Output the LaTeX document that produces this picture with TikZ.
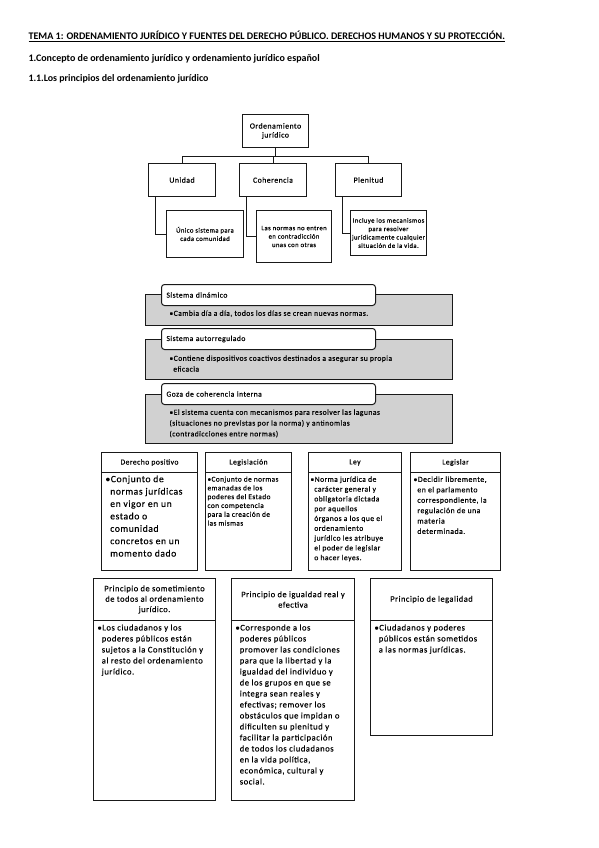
\documentclass[tikz,border=0pt]{standalone}
\usepackage{fontspec}
\setmainfont{Carlito}
\newfontfamily\dg{Carlito}[LetterSpace=6, FakeBold=0.3]
\usetikzlibrary{positioning}
\newcommand{\hg}{\phantom{•}}

\begin{document}
\begin{tikzpicture}[x=1pt, y=-1pt, line width=1pt,
    treebox/.style={draw=black!90, fill=white, anchor=north west, align=center, inner sep=1pt, font=\dg\fontsize{7.8}{9}\selectfont},
    leafbox/.style={treebox, font=\dg\fontsize{6.7}{8.4}\selectfont},
    band/.style={draw=black!90, fill=black!18, anchor=north west, minimum width=307pt},
    bandtitle/.style={draw=black!90, fill=white, rounded corners=3pt, anchor=north west, minimum height=21pt, text width=204pt, inner xsep=5pt, align=left, font=\dg\fontsize{7.6}{9}\selectfont},
    bandtext/.style={anchor=north west, align=left, inner sep=0pt, font=\dg\fontsize{7.6}{10.8}\selectfont},
    cardhead/.style={draw=black!90, anchor=north west, align=center, inner sep=1pt, font=\dg\fontsize{7.6}{9}\selectfont},
    cardbody/.style={draw=black!90, anchor=north west},
    cardtext/.style={anchor=north west, align=left, inner sep=0pt},
    link/.style={draw=black!90, line width=1pt}
]
    \useasboundingbox (0,0) rectangle (599,848);
    \fill[white] (0,0) rectangle (599,848);

    % Headings
    \node[anchor=base west, inner sep=0pt, font=\bfseries\fontsize{10.1}{11}\selectfont] (tema) at (28,40)
        {\underline{TEMA 1: ORDENAMIENTO JURÍDICO Y FUENTES DEL DERECHO PÚBLICO. DERECHOS HUMANOS Y SU PROTECCIÓN.}};
    \node[anchor=base west, inner sep=0pt, font=\bfseries\fontsize{10}{11}\selectfont] (concepto) at (28,62)
        {1.Concepto de ordenamiento jurídico y ordenamiento jurídico español};
    \node[anchor=base west, inner sep=0pt, font=\bfseries\fontsize{9.9}{11}\selectfont] (principios) at (28,82)
        {1.1.Los principios del ordenamiento jurídico};

    % Tree
    \node[treebox, minimum width=66pt, minimum height=33pt] (root) at (242,114) {Ordenamiento\\jurídico};
    \node[treebox, minimum width=67pt, minimum height=33pt] (unidad) at (148,163) {Unidad};
    \node[treebox, minimum width=67pt, minimum height=33pt] (coherencia) at (239,163) {Coherencia};
    \node[treebox, minimum width=66pt, minimum height=33pt] (plenitud) at (335,163) {Plenitud};
    \node[leafbox, minimum width=77pt, minimum height=47pt] (unico) at (166,210) {Único sistema para\\cada comunidad};
    \node[leafbox, minimum width=75pt, minimum height=52pt] (contradiccion) at (256,210) {Las normas no entren\\en contradicción\\unas con otras};
    \node[leafbox, minimum width=76pt, minimum height=45pt] (incluye) at (350,210) {Incluye los mecanismos\\para resolver\\jurídicamente cualquier\\situación de la vida.};

    \draw[link] (root.south) -- ++(0,8) -| (unidad.north);
    \draw[link] (root.south) -- ++(0,8) -| (coherencia.north);
    \draw[link] (root.south) -- ++(0,8) -| (plenitud.north);
    \draw[link] ([xshift=7pt]unidad.south west) |- (unico.west);
    \draw[link] ([xshift=7pt]coherencia.south west) |- (contradiccion.west);
    \draw[link] ([xshift=7pt]plenitud.south west) |- (incluye.west);

    % Banners
    \node[band, minimum height=31pt] (dinB) at (145,294) {};
    \node[bandtitle] (dinT) at (161,284) {Sistema dinámico};
    \node[bandtext] (dinX) at (169,310) {•Cambia día a día, todos los días se crean nuevas normas.};

    \node[band, minimum height=40pt] (autB) at (145,339) {};
    \node[bandtitle] (autT) at (161,328) {Sistema autorregulado};
    \node[bandtext] (autX) at (169,355) {•Contiene dispositivos coactivos destinados a asegurar su propia\\\hg eficacia};

    \node[band, minimum height=49pt] (cohB) at (145,394) {};
    \node[bandtitle] (cohT) at (161,383) {Goza de coherencia interna};
    \node[bandtext] (cohX) at (169,409) {•El sistema cuenta con mecanismos para resolver las lagunas\\(situaciones no previstas por la norma) y antinomias\\(contradicciones entre normas)};

    % Concepts
    \node[cardhead, minimum width=96pt, minimum height=20pt] (dpH) at (101,452) {Derecho positivo};
    \node[cardbody, minimum width=96pt, minimum height=98pt] (dpB) at (101,472) {};
    \node[cardtext, font=\dg\fontsize{9.6}{12.4}\selectfont] (dpX) at (105,475)
        {•Conjunto de\\\hg normas jurídicas\\\hg en vigor en un\\\hg estado o\\\hg comunidad\\\hg concretos en un\\\hg momento dado};

    \node[cardhead, minimum width=86pt, minimum height=20pt] (lgH) at (205,452) {Legislación};
    \node[cardbody, minimum width=86pt, minimum height=98pt] (lgB) at (205,472) {};
    \node[cardtext, font=\dg\fontsize{7.3}{8.8}\selectfont] (lgX) at (207,476)
        {•Conjunto de normas\\emanadas de los\\poderes del Estado\\con competencia\\para la creación de\\las mismas};

    \node[cardhead, minimum width=93pt, minimum height=20pt] (lyH) at (308,452) {Ley};
    \node[cardbody, minimum width=93pt, minimum height=98pt] (lyB) at (308,472) {};
    \node[cardtext, font=\dg\fontsize{7.6}{9.8}\selectfont] (lyX) at (310,476)
        {•Norma jurídica de\\\hg carácter general y\\\hg obligatoria dictada\\\hg por aquellos\\\hg órganos a los que el\\\hg ordenamiento\\\hg jurídico les atribuye\\\hg el poder de legislar\\\hg o hacer leyes.};

    \node[cardhead, minimum width=90pt, minimum height=20pt] (lrH) at (410,452) {Legislar};
    \node[cardbody, minimum width=90pt, minimum height=98pt] (lrB) at (410,472) {};
    \node[cardtext, font=\dg\fontsize{7.8}{10.4}\selectfont] (lrX) at (413,476)
        {•Decidir libremente,\\\hg en el parlamento\\\hg correspondiente, la\\\hg regulación de una\\\hg materia\\\hg determinada.};

    % Principles
    \node[cardhead, minimum width=122pt, minimum height=42pt, font=\dg\fontsize{8.4}{10.4}\selectfont] (smH) at (93,578)
        {Principio de sometimiento\\de todos al ordenamiento\\jurídico.};
    \node[cardbody, minimum width=122pt, minimum height=180pt] (smB) at (93,620) {};
    \node[cardtext, font=\dg\fontsize{8.6}{11}\selectfont] (smX) at (97,624)
        {•Los ciudadanos y los\\\hg poderes públicos están\\\hg sujetos a la Constitución y\\\hg al resto del ordenamiento\\\hg jurídico.};

    \node[cardhead, minimum width=123pt, minimum height=42pt, font=\dg\fontsize{8.4}{10.4}\selectfont] (igH) at (231,578)
        {Principio de igualdad real y\\efectiva};
    \node[cardbody, minimum width=123pt, minimum height=180pt] (igB) at (231,620) {};
    \node[cardtext, font=\dg\fontsize{8.6}{11}\selectfont] (igX) at (235,624)
        {•Corresponde a los\\\hg poderes públicos\\\hg promover las condiciones\\\hg para que la libertad y la\\\hg igualdad del individuo y\\\hg de los grupos en que se\\\hg integra sean reales y\\\hg efectivas; remover los\\\hg obstáculos que impidan o\\\hg dificulten su plenitud y\\\hg facilitar la participación\\\hg de todos los ciudadanos\\\hg en la vida política,\\\hg económica, cultural y\\\hg social.};

    \node[cardhead, minimum width=122pt, minimum height=42pt, font=\dg\fontsize{8.4}{10.4}\selectfont] (leH) at (370,578)
        {Principio de legalidad};
    \node[cardbody, minimum width=122pt, minimum height=115pt] (leB) at (370,620) {};
    \node[cardtext, font=\dg\fontsize{8.6}{11}\selectfont] (leX) at (374,624)
        {•Ciudadanos y poderes\\\hg públicos están sometidos\\\hg a las normas jurídicas.};
\end{tikzpicture}
\end{document}
